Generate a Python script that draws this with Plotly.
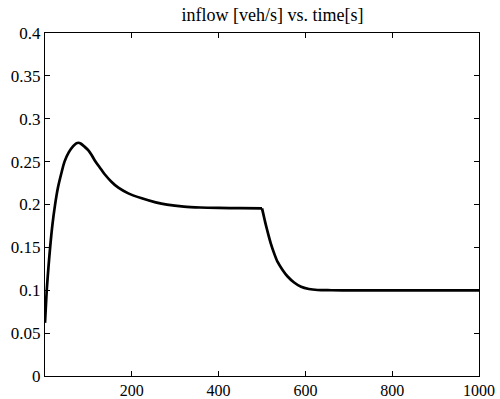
import plotly.graph_objects as go

time_s = [0, 2, 4, 8, 12, 17, 23, 30, 38, 45, 55, 65, 72, 77, 82, 91, 100, 107, 114, 122,
          130, 138, 153, 169, 192, 223, 255, 281, 320, 358, 400, 450, 500,
          503, 508, 514, 520, 528, 536, 547, 559, 574, 590, 608, 628, 660, 700, 800, 900, 1000]
inflow = [0.062, 0.081, 0.100, 0.127, 0.151, 0.176, 0.199, 0.220, 0.237, 0.250, 0.261, 0.268,
          0.2712, 0.272, 0.2712, 0.2675, 0.263, 0.258, 0.252, 0.246,
          0.2405, 0.235, 0.2266, 0.2196, 0.213, 0.2072, 0.2025, 0.1998, 0.1975, 0.1965, 0.196,
          0.1957, 0.1955,
          0.189, 0.178, 0.166, 0.155, 0.143, 0.133, 0.124, 0.116, 0.109, 0.104, 0.1015, 0.1003,
          0.1, 0.0998, 0.0998, 0.0998, 0.0998]

x_ticks = [200, 400, 600, 800, 1000]
y_ticks = [0, 0.05, 0.1, 0.15, 0.2, 0.25, 0.3, 0.35, 0.4]
y_tick_labels = ["0", "0.05", "0.1", "0.15", "0.2", "0.25", "0.3", "0.35", "0.4"]
title_text = "inflow [veh/s] vs. time[s]"

# split at the switching instant (t = 500) so the corner stays sharp
k = time_s.index(500)
segments = [(time_s[:k + 1], inflow[:k + 1]), (time_s[k:], inflow[k:])]

fig = go.Figure()
for xs, ys in segments:
    fig.add_trace(go.Scatter(x=xs, y=ys, mode="lines",
                             line=dict(color="black", width=2.7, shape="spline", smoothing=0.8),
                             showlegend=False))

FAM = "Liberation Serif"
font = dict(family=FAM, size=16, color="black")
yfont = dict(family=FAM, size=17, color="black")

fig.update_layout(
    width=500, height=399,
    margin=dict(l=45, r=21, t=33, b=23),
    paper_bgcolor="white", plot_bgcolor="white",
    font=font,
    title=dict(text=title_text, x=(45 + 479) / 2 / 500, xanchor="center", y=1 - 14.5 / 399,
               yanchor="middle", xref="paper",
               font=dict(family=FAM, size=18, color="black")),
    xaxis=dict(range=[0, 1000], tickvals=x_ticks, ticks="inside", ticklen=5, tickcolor="black",
               showline=True, linecolor="black", linewidth=1, mirror="ticks", automargin=False,
               showgrid=False, zeroline=False, tickfont=font),
    yaxis=dict(range=[0, 0.4], tickvals=y_ticks, ticktext=y_tick_labels, ticks="inside",
               ticklen=5, tickcolor="black", showline=True, linecolor="black", linewidth=1,
               mirror="ticks", automargin=False, showgrid=False, zeroline=False, tickfont=yfont),
)

fig.write_html("out.html")
